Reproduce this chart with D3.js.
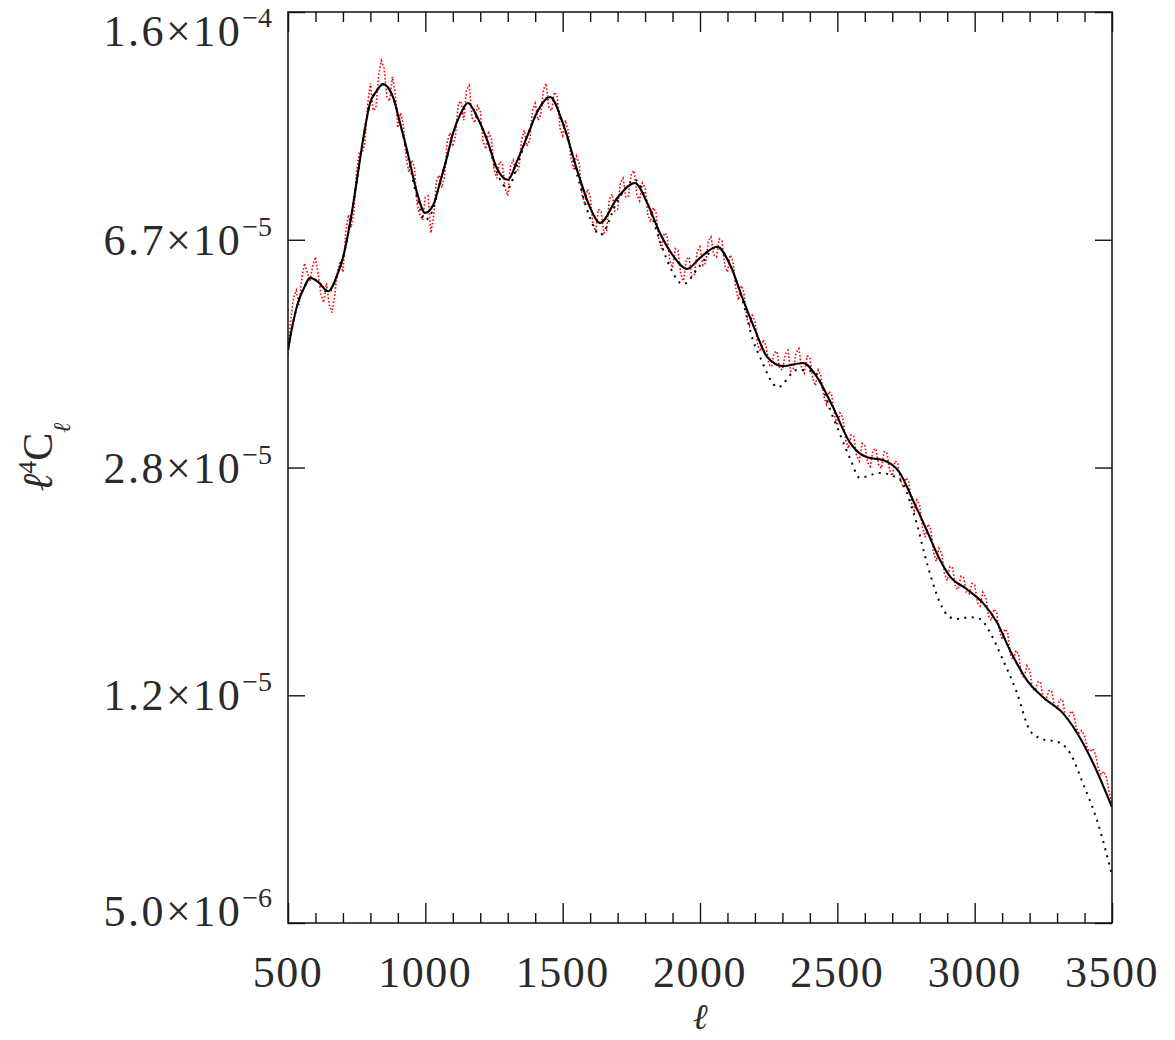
<!DOCTYPE html>
<html><head><meta charset="utf-8">
<script src="https://cdn.jsdelivr.net/npm/d3@7"></script>
<style>
html,body{margin:0;padding:0;background:#fff;}
svg text{font-family:"Liberation Serif","DejaVu Serif",serif;fill:#2a2a2a;}
</style></head>
<body><svg id="c" width="1175" height="1040"></svg>
<script>
// ---- data (units of 1e-5) ----
const solidL = [500,513,536,560,580,610,646,682,700,726,751,773,799,820,846,882,910,933,970,999,1030,1053,1080,1101,1130,1155,1190,1225,1260,1301,1335,1370,1410,1454,1500,1556,1600,1636,1700,1763,1810,1854,1900,1953,2000,2062,2110,2157,2200,2244,2302,2375,2426,2484,2546,2608,2666,2728,2775,2825,2874,2910,2972,3030,3081,3129,3190,3249,3322,3373,3431,3500];
const solidV = [4.42,4.77,5.29,5.62,5.82,5.73,5.53,5.93,6.28,7.17,8.45,9.83,11.32,11.8,12.16,11.58,10.4,9.47,8.04,7.45,7.7,8.35,9.25,10.10,10.9,11.32,10.7,9.83,8.84,8.45,9.1,9.95,11.0,11.58,10.5,8.67,7.6,7.17,7.9,8.35,7.7,6.90,6.35,6.02,6.28,6.55,6.11,5.35,4.78,4.31,4.16,4.21,3.99,3.56,3.11,2.94,2.91,2.77,2.50,2.23,1.99,1.87,1.78,1.69,1.57,1.41,1.26,1.18,1.11,1.03,0.919,0.777];

const dotL = [500,513,536,560,580,610,646,682,700,726,751,773,799,820,846,882,910,933,970,999,1030,1053,1080,1101,1130,1155,1190,1225,1260,1301,1335,1370,1410,1454,1500,1556,1600,1636,1700,1763,1810,1854,1900,1938,2000,2062,2110,2157,2193,2218,2284,2353,2411,2484,2546,2582,2655,2728,2775,2837,2874,2910,2936,2983,3019,3056,3103,3154,3201,3238,3311,3347,3394,3445,3500];
const dotV = [4.42,4.77,5.29,5.62,5.82,5.73,5.50,5.93,6.28,7.17,8.45,9.83,11.32,11.8,12.16,11.58,10.4,9.4,7.9,7.25,7.6,8.35,9.25,10.10,10.9,11.32,10.7,9.83,8.7,8.19,8.95,9.95,11.0,11.6,10.5,8.5,7.3,6.85,7.8,8.45,7.7,6.7,5.95,5.68,6.1,6.55,6.1,5.3,4.59,4.31,3.84,4.10,4.08,3.43,2.93,2.72,2.77,2.70,2.40,1.89,1.69,1.60,1.59,1.60,1.59,1.51,1.36,1.20,1.04,1.01,0.992,0.955,0.851,0.740,0.600];

// noisy simulated points, even multipoles 500..3500 step 20
const redEvenL = d3.range(500, 3501, 20);
const redEvenV = [
4.35,5.40,5.25,6.15,5.75,6.30,5.45,5.70,5.10,5.95,
5.95,7.40,7.50,9.40,9.70,12.2,11.1,13.3,11.6,12.5,
10.3,10.4,8.7,8.9,7.4,7.9,6.9,8.4,8.2,9.8,
9.6,11.3,10.6,12.1,10.5,11.0,9.5,9.9,8.5,9.0,
7.95,9.1,8.8,10.2,9.8,11.3,10.8,12.2,11.0,11.6,
10.0,10.2,8.8,9.0,7.7,7.95,6.95,7.5,6.95,8.0,
7.55,8.5,7.95,8.75,7.8,8.2,7.2,7.45,6.5,6.85,
6.05,6.45,5.75,6.3,5.9,6.55,6.15,6.8,6.3,6.7,
5.95,6.2,5.35,5.5,4.85,4.95,4.40,4.50,4.15,4.40,
4.10,4.42,4.12,4.45,4.05,4.30,3.86,4.02,3.60,3.72,
3.32,3.42,3.04,3.18,2.90,3.08,2.84,3.04,2.82,3.00,
2.74,2.88,2.62,2.68,2.40,2.45,2.17,2.24,1.98,2.04,
1.84,1.93,1.78,1.86,1.75,1.81,1.67,1.73,1.58,1.63,
1.47,1.51,1.36,1.39,1.27,1.31,1.21,1.25,1.17,1.21,
1.13,1.17,1.08,1.11,1.03,1.02,0.96,0.95,0.88,0.87,
0.79];
// noisy simulated points, 510..3490 step 20
const redOddL = d3.range(510, 3500, 20);
const redOddV = [
4.95,5.55,5.80,5.95,6.10,5.90,5.30,5.25,5.45,6.20,
6.90,7.05,8.75,9.35,11.3,11.0,12.6,12.9,11.4,11.8,
10.9,9.2,9.1,7.7,7.25,7.95,7.35,8.6,8.55,10.1,
10.0,11.4,11.9,10.7,11.2,9.8,10.1,8.8,9.05,8.2,
8.9,8.7,9.8,9.6,11.0,10.6,11.9,11.1,11.8,10.3,
10.6,9.15,9.25,8.0,8.15,7.15,7.55,6.9,7.85,7.5,
8.35,7.9,8.65,8.0,8.35,7.4,7.6,6.75,6.9,6.2,
6.5,5.9,6.25,5.85,6.45,6.1,6.7,6.35,6.75,6.1,
6.35,5.6,5.65,5.0,5.05,4.5,4.6,4.2,4.38,4.12,
4.35,4.08,4.38,4.12,4.32,3.98,4.1,3.72,3.78,3.45,
3.48,3.14,3.2,2.96,3.1,2.88,3.02,2.86,3.0,2.8,
2.9,2.7,2.72,2.47,2.5,2.25,2.28,2.05,2.08,1.89,
1.94,1.79,1.87,1.76,1.82,1.69,1.76,1.61,1.65,1.52,
1.53,1.39,1.41,1.29,1.33,1.22,1.25,1.17,1.21,1.14,
1.17,1.10,1.12,1.05,1.04,0.97,0.97,0.90,0.89,0.82];

const xMajor = [500,1000,1500,2000,2500,3000,3500];
const xMinor = d3.range(600, 3500, 100).filter(v => v % 500 !== 0);
const yTickValues = [5.0e-6, 1.189e-5, 2.828e-5, 6.727e-5, 1.6e-4];
const yTickMant = ["5.0","1.2","2.8","6.7","1.6"];
const yTickExp = ["\u22126","\u22125","\u22125","\u22125","\u22124"];

// ---- layout ----
const L = 288, R = 1112, T = 12, B = 923;
const svg = d3.select("#c");
const x = d3.scaleLinear().domain([500,3500]).range([L,R]);
const y = d3.scaleLog().domain([5e-6,1.6e-4]).range([B,T]);

svg.append("clipPath").attr("id","clip").append("rect")
  .attr("x",L).attr("y",T).attr("width",R-L).attr("height",B-T);
const g = svg.append("g").attr("clip-path","url(#clip)");

const line = d3.line().x(d=>x(d[0])).y(d=>y(d[1]*1e-5));
const lineM = d3.line().curve(d3.curveMonotoneX).x(d=>x(d[0])).y(d=>y(d[1]*1e-5));

const redPts = redEvenL.map((l,i)=>[l,redEvenV[i]])
  .concat(redOddL.map((l,i)=>[l,redOddV[i]]))
  .sort((a,b)=>a[0]-b[0]);

g.append("path").datum(redPts)
  .attr("d",line).attr("fill","none").attr("stroke","#ff0000")
  .attr("stroke-width",1.6).attr("stroke-dasharray","1.6 2");

g.append("path").datum(dotL.map((l,i)=>[l,dotV[i]]))
  .attr("d",lineM).attr("fill","none").attr("stroke","#000")
  .attr("stroke-width",2).attr("stroke-dasharray","2 5.4");

g.append("path").datum(solidL.map((l,i)=>[l,solidV[i]]))
  .attr("d",lineM).attr("fill","none").attr("stroke","#000")
  .attr("stroke-width",2.1);

// ---- axes (ticks inward) ----
function strip(sel){ sel.select(".domain").remove(); sel.selectAll(".tick line").attr("stroke","#111").attr("stroke-width",1.4); }
svg.append("g").attr("transform",`translate(0,${B})`)
  .call(d3.axisBottom(x).tickValues(xMajor).tickSize(-20).tickFormat("")).call(strip);
svg.append("g").attr("transform",`translate(0,${B})`)
  .call(d3.axisBottom(x).tickValues(xMinor).tickSize(-10).tickFormat("")).call(strip);
svg.append("g").attr("transform",`translate(0,${T})`)
  .call(d3.axisTop(x).tickValues(xMajor).tickSize(-20).tickFormat("")).call(strip);
svg.append("g").attr("transform",`translate(0,${T})`)
  .call(d3.axisTop(x).tickValues(xMinor).tickSize(-10).tickFormat("")).call(strip);
svg.append("g").attr("transform",`translate(${L},0)`)
  .call(d3.axisLeft(y).tickValues(yTickValues).tickSize(-17).tickFormat("")).call(strip);
svg.append("g").attr("transform",`translate(${R},0)`)
  .call(d3.axisRight(y).tickValues(yTickValues).tickSize(-17).tickFormat("")).call(strip);

svg.append("rect").attr("x",L).attr("y",T).attr("width",R-L).attr("height",B-T)
  .attr("fill","none").attr("stroke","#111").attr("stroke-width",1.5);

// ---- tick labels ----
svg.append("g").selectAll("text").data(xMajor).join("text")
  .attr("x",d=>x(d)).attr("y",987).attr("text-anchor","middle")
  .attr("font-size",44).attr("letter-spacing",1.5).text(d=>d);

const yl = svg.append("g").selectAll("text").data(yTickValues).join("text")
  .attr("x",272).attr("text-anchor","end").attr("font-size",44)
  .attr("y",d=>Math.min(Math.max(y(d),31),911)+15);
yl.append("tspan").attr("letter-spacing",2.5).text((d,i)=>yTickMant[i]+"\u00d710");
yl.append("tspan").attr("font-size",28).attr("dy",-19).text((d,i)=>yTickExp[i]);

// ---- axis titles ----
svg.append("text").attr("x",700).attr("y",1029).attr("text-anchor","middle")
  .attr("font-size",36).attr("font-style","italic").text("\u2113");
const yt = svg.append("text").attr("transform","translate(52,457) rotate(-90)")
  .attr("text-anchor","middle").attr("font-size",42);
yt.append("tspan").attr("font-style","italic").text("\u2113");
yt.append("tspan").attr("font-size",26).attr("dy",-16).text("4");
yt.append("tspan").attr("dy",16).text("C");
yt.append("tspan").attr("font-size",24).attr("dy",18).attr("font-style","italic").text("\u2113");
</script></body></html>
